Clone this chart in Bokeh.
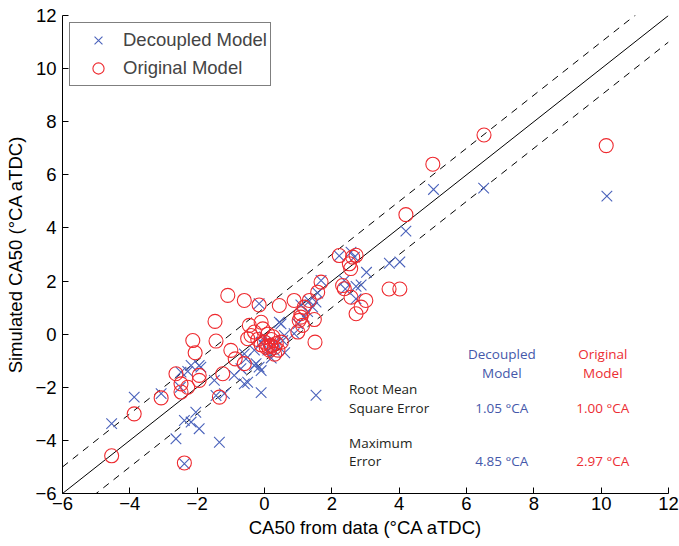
from bokeh.plotting import figure
from bokeh.models import ColumnDataSource, Range1d, FixedTicker, Legend, LegendItem
from bokeh.core.properties import value
from bokeh.embed import file_html
from bokeh.resources import INLINE

# ---------------- data ----------------
dec_x = [10.17, 6.51, 5.02, 4.20, 3.71, 4.02, 3.03, 2.57, 2.67, 2.22, 2.37, 2.72, 2.87, 2.72,
         1.68, 1.58, 1.53, 1.43, 1.18, 1.28, 0.99, 0.44, 0.59, 0.88, 0.54, 0.29, -0.16, -0.60,
         -0.90, -0.50, -0.70, -0.30, -0.16, -0.60, -0.10, 1.53, -1.49, -1.19, -1.44, -1.34,
         -2.28, -1.94, -2.48, -2.04, -2.38, -2.18, -1.94, -2.63, -2.38, -3.07, -3.87, -4.54,
         -2.50, 0.10, 0.30, -0.10, 0.20, -0.30, 0.60, 0.00, -0.55, -0.25, -0.10, 0.49,
         1.08, 1.33, 2.40, -2.18, -1.89]
dec_y = [5.20, 5.50, 5.45, 3.88, 2.67, 2.72, 2.33, 3.09, 2.90, 2.95, 2.02, 1.80, 1.85, 1.33,
         2.02, 1.55, 1.21, 1.02, 0.64, 0.85, 0.39, 0.45, -0.05, 0.02, -0.24, -0.61, 1.15, -0.74,
         -1.55, -1.81, -1.30, -1.18, -1.24, -1.87, -2.20, -2.30, -1.74, -2.24, -2.31, -4.07,
         -1.40, -1.18, -1.43, -2.94, -3.25, -3.31, -3.56, -3.94, -4.88, -2.24, -2.37, -3.37,
         -2.00, -0.60, -0.30, -0.30, -0.90, -0.60, -0.70, -0.10, -0.93, -1.11, -1.37, 0.39,
         1.10, 1.25, 1.70, -1.18, -1.24]

orig_x = [10.15, 6.52, 5.00, 4.20, 3.70, 4.02, 2.22, 2.62, 2.72, 2.52, 2.56, 1.68, 1.58, 1.33,
          1.18, 1.48, 1.08, 2.32, 2.37, 2.57, 3.01, 2.87, 2.72, 1.50, -1.09, -0.60, -0.16,
          0.44, 0.88, 1.08, 1.03, 1.13, 0.99, -0.10, -0.05, -0.45, -0.50, -0.30, -1.00, -1.47,
          -2.13, -2.06, -1.44, -0.87, -0.60, -1.24, -2.63, -1.94, -1.94, -2.48, -2.28, -2.48,
          -3.07, -1.34, -3.87, -4.54, -2.38, 0.19, -0.40, 0.50, 0.00, 0.10, 0.20, 0.30, 0.15,
          0.35, 0.05, 0.25, -0.10, 0.40, 0.20, -0.20, 0.10, 0.30]
orig_y = [7.10, 7.50, 6.40, 4.50, 1.70, 1.70, 2.96, 2.90, 2.97, 2.65, 2.47, 1.96, 1.58, 1.27,
          1.02, 0.55, 0.64, 1.83, 1.71, 1.39, 1.27, 1.02, 0.77, -0.30, 1.46, 1.27, 1.10,
          1.08, 1.27, 0.77, 0.52, 0.33, 0.08, 0.45, 0.20, 0.33, -0.17, 0.08, -0.61, 0.48,
          -0.24, -0.70, -0.26, -0.93, -1.11, -1.49, -1.49, -1.55, -1.74, -1.87, -2.00, -2.18,
          -2.40, -2.37, -3.00, -4.58, -4.85, -0.42, -0.05, -0.30, -0.30, -0.45, -0.20, -0.50, -0.60,
          -0.35, -0.50, -0.10, -0.40, -0.60, -0.45, -0.20, 0.00, -0.75]

ticks = [-6, -4, -2, 0, 2, 4, 6, 8, 10, 12]
tick_labels = ["\u22126", "\u22124", "\u22122", "0", "2", "4", "6", "8", "10", "12"]

ref_x = [-6, 12]       # 1:1 line span
band = 1.0             # +/- 1 degCA dashed band

models = ["Decoupled Model", "Original Model"]
metric_names = ["Root Mean Square Error", "Maximum Error"]
rmse_vals = ["1.05 \u00b0CA", "1.00 \u00b0CA"]
max_vals = ["4.85 \u00b0CA", "2.97 \u00b0CA"]

# ---------------- styling ----------------
BLUE = "#4a62bb"
RED = "#ee2a2f"
TXT_BLUE = "#4558aa"
TXT_RED = "#ec2d33"
FONT = "Liberation Sans"
FS = "18.5px"

p = figure(width=679, height=546, output_backend="svg", toolbar_location=None,
           x_range=Range1d(-6, 12), y_range=Range1d(-6, 12),
           min_border_left=62, min_border_right=11, min_border_top=15, min_border_bottom=53)
p.outline_line_color = None
p.grid.visible = False
p.background_fill_color = "white"
p.border_fill_color = "white"

for ax in (p.xaxis, p.yaxis):
    ax.ticker = FixedTicker(ticks=ticks)
    ax.major_label_overrides = {t: l for t, l in zip(ticks, tick_labels)}
    ax.major_tick_in = 6
    ax.major_tick_out = 0
    ax.minor_tick_line_color = None
    ax.axis_line_color = "black"
    ax.major_tick_line_color = "black"
    ax.major_label_text_font = FONT
    ax.major_label_text_font_size = FS
    ax.major_label_text_color = "black"
    ax.axis_label_text_font = FONT
    ax.axis_label_text_font_size = FS
    ax.axis_label_text_font_style = "normal"
    ax.axis_label_text_color = "black"

p.xaxis.axis_label = "CA50 from data (\u00b0CA aTDC)"
p.yaxis.axis_label = "Simulated CA50 (\u00b0CA aTDC)"
p.xaxis.major_label_standoff = 3
p.xaxis.axis_label_standoff = 4
p.yaxis.major_label_standoff = 6
p.yaxis.axis_label_standoff = 6

# reference lines
p.line(ref_x, ref_x, line_color="black", line_width=1)
p.line(ref_x, [v + band for v in ref_x], line_color="black", line_width=1, line_dash="7 6")
p.line(ref_x, [v - band for v in ref_x], line_color="black", line_width=1, line_dash="7 6")

src_dec = ColumnDataSource(dict(x=dec_x, y=dec_y))
src_org = ColumnDataSource(dict(x=orig_x, y=orig_y))
r_dec = p.scatter("x", "y", source=src_dec, marker="x", size=15, line_color=BLUE, line_width=1.1)
r_org = p.scatter("x", "y", source=src_org, marker="circle", size=14, fill_color=None,
                  line_color=RED, line_width=1.1)

legend = Legend(items=[LegendItem(label=models[0], renderers=[r_dec]),
                       LegendItem(label=models[1], renderers=[r_org])],
                location="top_left", margin=7, padding=3, spacing=-4,
                glyph_width=50, glyph_height=28, label_standoff=0,
                label_text_font=FONT, label_text_font_size=FS, label_height=20,
                border_line_color="black", border_line_width=1,
                background_fill_color="white", background_fill_alpha=1)
p.add_layout(legend)

# statistics table
label_x = 2.51
col_x = [7.05, 10.05]
head_y = [-0.76, -1.45]
row_y = [[-2.08, -2.78], [-4.10, -4.77]]
col_colors = [TXT_BLUE, TXT_RED]
TFONT = value("Open Sans")

tx, ty, tt, tc, ta = [], [], [], [], []
for i, m in enumerate(models):
    for j, part in enumerate(m.split(" ")):
        tx.append(col_x[i]); ty.append(head_y[j]); tt.append(part); tc.append(col_colors[i]); ta.append("center")
for r, name in enumerate(metric_names):
    words = name.split(" ")
    lines = [" ".join(words[:-2]), " ".join(words[-2:])] if len(words) > 2 else words
    for j, part in enumerate(lines):
        tx.append(label_x); ty.append(row_y[r][j]); tt.append(part); tc.append("#231f20"); ta.append("left")
    vals = rmse_vals if r == 0 else max_vals
    for i, v in enumerate(vals):
        tx.append(col_x[i]); ty.append(row_y[r][1]); tt.append(v); tc.append(col_colors[i]); ta.append("center")

src_txt = ColumnDataSource(dict(x=tx, y=ty, text=tt, color=tc, align=ta))
p.text("x", "y", text="text", source=src_txt, text_color="color", text_align="align",
       text_baseline="middle", text_font=TFONT, text_font_size="13.5px")

open("out.html", "w").write(file_html(p, INLINE))
